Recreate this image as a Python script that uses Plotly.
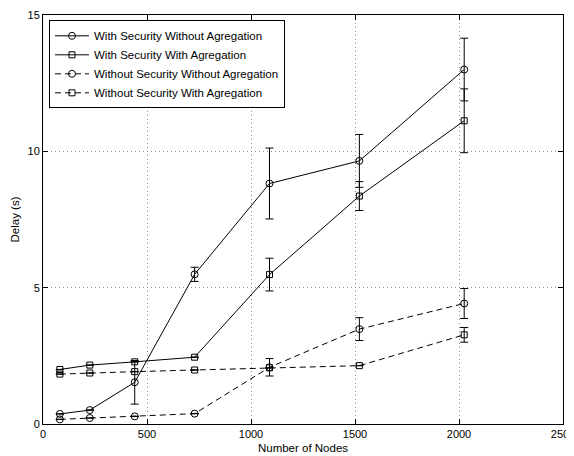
import plotly.graph_objects as go

nodes = [81, 225, 441, 729, 1089, 1521, 2025]

sec_noagg = [0.37, 0.51, 1.53, 5.49, 8.82, 9.65, 13.0]
sec_noagg_err = [0, 0, 0.8, 0.26, 1.3, 0.97, 1.15]

sec_agg = [2.0, 2.16, 2.28, 2.45, 5.48, 8.36, 11.12]
sec_agg_err = [0, 0, 0, 0, 0.6, 0.53, 1.17]

nosec_noagg = [0.17, 0.22, 0.28, 0.38, 2.08, 3.48, 4.42]
nosec_noagg_err = [0, 0, 0, 0, 0.32, 0.42, 0.55]

nosec_agg = [1.83, 1.87, 1.92, 1.98, 2.06, 2.14, 3.27]
nosec_agg_err = [0, 0, 0, 0, 0.0, 0.0, 0.27]

names = ["With Security Without Agregation", "With Security With Agregation",
         "Without Security Without Agregation", "Without Security With Agregation"]

series = [
    (sec_noagg, sec_noagg_err, "circle-open", "solid", 7),
    (sec_agg, sec_agg_err, "square-open", "solid", 6),
    (nosec_noagg, nosec_noagg_err, "circle-open", "6px,4px", 7),
    (nosec_agg, nosec_agg_err, "square-open", "6px,4px", 6),
]

fig = go.Figure()
for name, (vals, errs, sym, dash, msize) in zip(names, series):
    fig.add_trace(go.Scatter(
        x=nodes, y=vals, name=name, mode="lines+markers",
        line=dict(color="black", width=1, dash=dash),
        marker=dict(symbol=sym, size=msize, color="black", line=dict(width=1, color="black")),
        error_y=dict(type="data", array=errs, visible=True, color="black", thickness=1, width=4),
    ))

font = "Liberation Sans, Arial, Helvetica, sans-serif"
axis_common = dict(
    showline=True, linecolor="black", linewidth=1, mirror="ticks",
    ticks="inside", ticklen=5, tickcolor="black", tickwidth=1,
    showgrid=True, gridcolor="#8c8c8c", griddash="1px,3px", gridwidth=1,
    zeroline=False, automargin=False, ticklabeloverflow="allow",
    tickfont=dict(family=font, size=11, color="black"),
)
fig.update_xaxes(range=[0, 2500], tickvals=[0, 500, 1000, 1500, 2000, 2500],
                 title=dict(text="Number of Nodes", font=dict(family=font, size=11.5, color="black"), standoff=4),
                 **axis_common)
fig.update_yaxes(range=[0, 15], tickvals=[0, 5, 10, 15],
                 title=dict(text="Delay (s)", font=dict(family=font, size=11.5, color="black"), standoff=5),
                 **axis_common)

# the page body adds an 8px margin, so the figure is sized to fill the rest of the window
fig.update_layout(
    width=566, height=448,
    margin=dict(l=35, r=11, t=6.5, b=32),
    plot_bgcolor="white", paper_bgcolor="white",
    font=dict(family=font, size=11, color="black"),
    legend=dict(x=0.0115, y=0.987, xanchor="left", yanchor="top",
                bordercolor="black", borderwidth=1, bgcolor="white",
                font=dict(family=font, size=11.5, color="black"),
                itemwidth=34, tracegroupgap=0),
    showlegend=True,
)

fig.write_html("out.html")
